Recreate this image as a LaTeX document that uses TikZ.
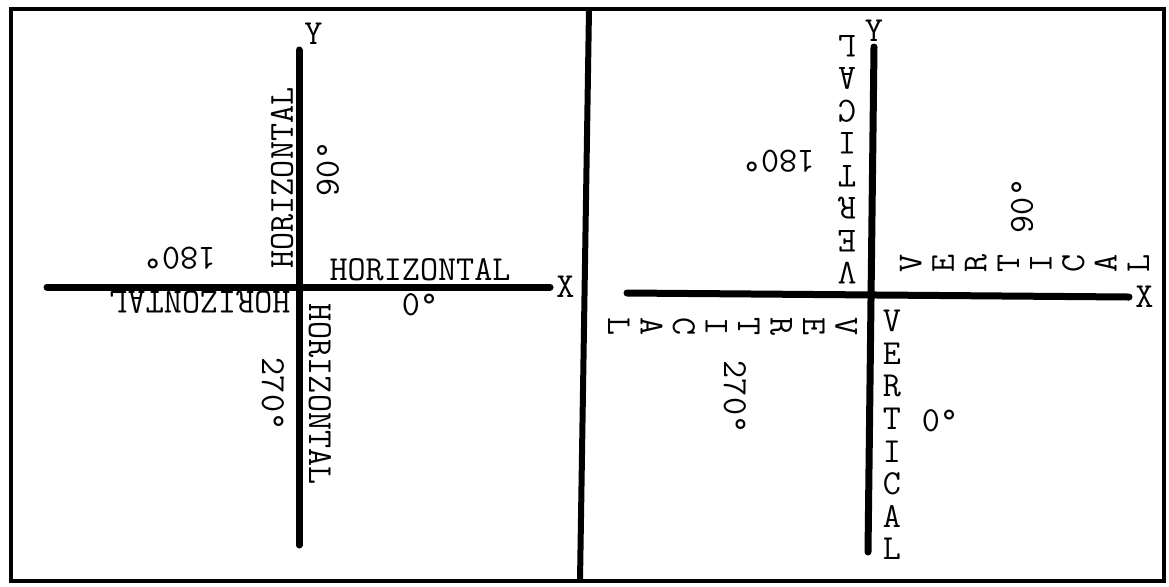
\documentclass[tikz,border=0pt]{standalone}
\usepackage{fontspec}
\usetikzlibrary{positioning}

\begin{document}
\begin{tikzpicture}[
    x=0.02cm, y=-0.02cm,
    lbl/.style={font=\ttfamily\fontsize{20}{18.5}\selectfont, inner sep=0pt},
    stack/.style={lbl, align=center},
    axis/.style={line width=0.14cm, line cap=round},
    frame/.style={line width=0.09cm}
  ]
    \useasboundingbox (0,0) rectangle (1169,586);
    % frame and divider
    \draw[frame] (11,9) rectangle (1164,581);
    \draw[line width=0.12cm] (589,9) -- (580,581);

    % left panel: horizontal
    \coordinate (lxa) at (47,287);
    \coordinate (lxb) at (550,287);
    \coordinate (lya) at (299,50);
    \coordinate (lyb) at (299,545);
    \draw[axis] (lxa) -- (lxb);
    \draw[axis] (lya) -- (lyb);
    \node[lbl, right=0.12cm of lxb] (lx) {X};
    \node[lbl, above right=0.1cm and 0.1cm of lya] (ly) {Y};

    \node[lbl] (lh-right) at (420,270) {HORIZONTAL};
    \node[lbl] (ld-0) at (420,305) {0°};
    \node[lbl, rotate=90] (lh-up) at (282,178) {HORIZONTAL};
    \node[lbl, rotate=90] (ld-90) at (328,169) {90°};
    \node[lbl, rotate=180] (lh-left) at (200,302) {HORIZONTAL};
    \node[lbl, rotate=180] (ld-180) at (180,258) {180°};
    \node[lbl, rotate=-90] (lh-down) at (320,394) {HORIZONTAL};
    \node[lbl, rotate=-90] (ld-270) at (273,394) {270°};

    % right panel: vertical
    \coordinate (rxa) at (627,293);
    \coordinate (rxb) at (1129,297);
    \coordinate (rya) at (874,47);
    \coordinate (ryb) at (868,552);
    \draw[axis] (rxa) -- (rxb);
    \draw[axis] (rya) -- (ryb);
    \node[lbl, right=0.12cm of rxb] (rx) {X};
    \node[lbl, above=0.1cm of rya] (ry) {Y};

    \node[stack] (rv-down) at (892,435) {V\\E\\R\\T\\I\\C\\A\\L};
    \node[lbl] (rd-0) at (940,421) {0°};
    \node[stack, rotate=90] (rv-right) at (1024.5,263) {V\\E\\R\\T\\I\\C\\A\\L};
    \node[lbl, rotate=90] (rd-90) at (1022,206) {90°};
    \node[stack, rotate=180] (rv-up) at (847,159.5) {V\\E\\R\\T\\I\\C\\A\\L};
    \node[lbl, rotate=180] (rd-180) at (779,161) {180°};
    \node[stack, rotate=-90] (rv-left) at (732.5,327) {V\\E\\R\\T\\I\\C\\A\\L};
    \node[lbl, rotate=-90] (rd-270) at (735,397) {270°};
\end{tikzpicture}
\end{document}
